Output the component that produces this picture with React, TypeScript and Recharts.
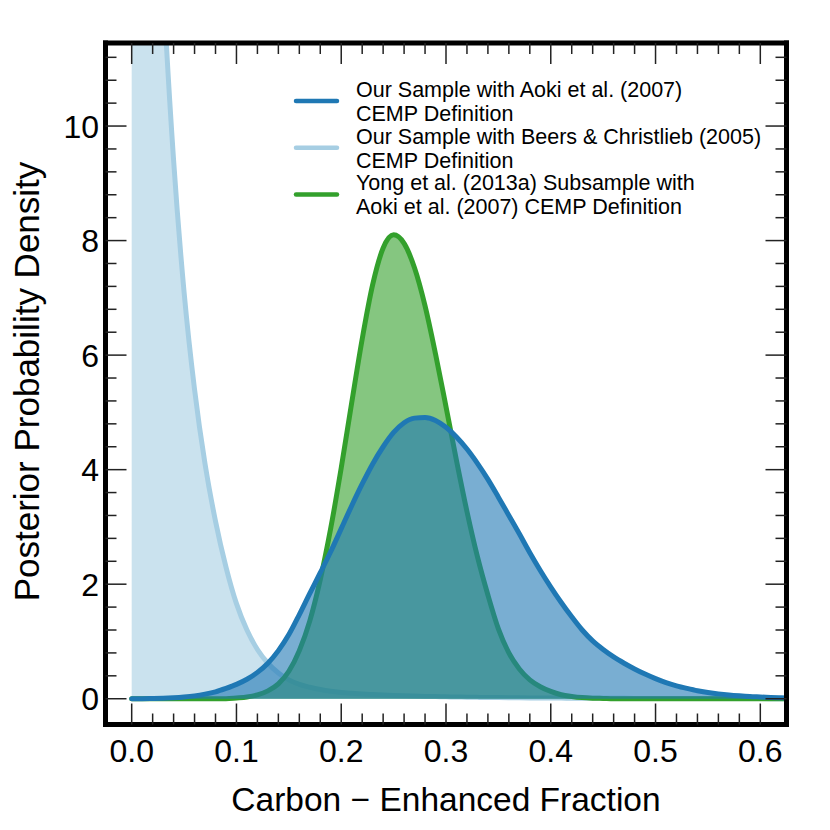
import React from 'react';
import { ComposedChart, Area, XAxis, YAxis, Legend } from 'recharts';

const W = 830;
const H = 830;
const FONT = '"Liberation Sans", Arial, Helvetica, sans-serif';

// ---------------- data ----------------
const X_VALUES = [
  0, 0.01, 0.02, 0.03, 0.04, 0.05, 0.06, 0.07, 0.08, 0.09,
  0.1, 0.11, 0.12, 0.13, 0.14, 0.15, 0.16, 0.17, 0.18, 0.19,
  0.2, 0.21, 0.22, 0.23, 0.24, 0.25, 0.26, 0.27, 0.28, 0.29,
  0.3, 0.31, 0.32, 0.33, 0.34, 0.35, 0.36, 0.37, 0.38, 0.39,
  0.4, 0.41, 0.42, 0.43, 0.44, 0.45, 0.46, 0.47, 0.48, 0.49,
  0.5, 0.51, 0.52, 0.53, 0.54, 0.55, 0.56, 0.57, 0.58, 0.59,
  0.6, 0.61, 0.62, 0.625,
];

// Our Sample with Aoki et al. (2007)
const AOKI = [
  0, 0.001, 0.003, 0.007, 0.016, 0.03, 0.05, 0.08, 0.12, 0.18,
  0.25, 0.34, 0.46, 0.62, 0.84, 1.12, 1.47, 1.84, 2.2, 2.57,
  2.97, 3.37, 3.75, 4.1, 4.4, 4.65, 4.82, 4.9, 4.91, 4.86,
  4.74, 4.57, 4.36, 4.11, 3.83, 3.52, 3.2, 2.88, 2.55, 2.24,
  1.95, 1.68, 1.43, 1.2, 1.01, 0.86, 0.73, 0.62, 0.52, 0.43,
  0.35, 0.28, 0.225, 0.18, 0.14, 0.11, 0.085, 0.065, 0.05, 0.038,
  0.03, 0.022, 0.016, 0.014,
];

// Our Sample with Beers & Christlieb (2005)
const BEERS = [
  30, 22.5, 16.8, 12.5, 9.4, 7.1, 5.4, 4.1, 3.1, 2.3,
  1.66, 1.2, 0.86, 0.62, 0.45, 0.33, 0.25, 0.2, 0.16, 0.13,
  0.11, 0.095, 0.082, 0.072, 0.064, 0.057, 0.051, 0.046, 0.041, 0.037,
  0.033, 0.03, 0.027, 0.024, 0.022, 0.02, 0.018, 0.016, 0.014, 0.013,
  0.012, 0.011, 0.01, 0.009, 0.008, 0.0075, 0.007, 0.0065, 0.006, 0.0055,
  0.005, 0.0046, 0.0042, 0.0038, 0.0035, 0.0032, 0.003, 0.0027, 0.0025, 0.0023,
  0.002, 0.0018, 0.0016, 0.0015,
];

// Yong et al. (2013a) Subsample with Aoki et al. (2007)
const YONG = [
  0, 0, 0, 0, 0, 0, 0, 0, 0, 0,
  0.013, 0.03, 0.067, 0.137, 0.26, 0.48, 0.84, 1.36, 2.08, 2.98,
  4.03, 5.17, 6.28, 7.23, 7.87, 8.1, 7.95, 7.52, 6.86, 6.02,
  5.1, 4.16, 3.27, 2.48, 1.81, 1.22, 0.8, 0.52, 0.33, 0.21,
  0.127, 0.07, 0.04, 0.02, 0.01, 0.005, 0, 0, 0, 0,
  0, 0, 0, 0, 0, 0, 0, 0, 0, 0,
  0, 0, 0, 0,
];

const X_TICKS = [
  0, 0.02, 0.04, 0.06, 0.08, 0.1, 0.12, 0.14, 0.16, 0.18,
  0.2, 0.22, 0.24, 0.26, 0.28, 0.3, 0.32, 0.34, 0.36, 0.38,
  0.4, 0.42, 0.44, 0.46, 0.48, 0.5, 0.52, 0.54, 0.56, 0.58, 0.6,
];
const X_MAJOR = [0, 0.1, 0.2, 0.3, 0.4, 0.5, 0.6];
const X_LABELS = ['0.0', '0.1', '0.2', '0.3', '0.4', '0.5', '0.6'];

const Y_TICKS = [
  0, 0.4, 0.8, 1.2, 1.6, 2, 2.4, 2.8, 3.2, 3.6, 4, 4.4, 4.8, 5.2, 5.6,
  6, 6.4, 6.8, 7.2, 7.6, 8, 8.4, 8.8, 9.2, 9.6, 10, 10.4, 10.8, 11.2,
];
const Y_MAJOR = [0, 2, 4, 6, 8, 10];
const Y_LABELS = ['0', '2', '4', '6', '8', '10'];

const SERIES_NAMES = [
  ['Our Sample with Aoki et al. (2007)', 'CEMP Definition'],
  ['Our Sample with Beers & Christlieb (2005)', 'CEMP Definition'],
  ['Yong et al. (2013a) Subsample with', 'Aoki et al. (2007) CEMP Definition'],
];
const SERIES_COLORS = ['#1f78b4', '#a6cee3', '#33a02c'];

const X_TITLE = 'Carbon \u2212 Enhanced Fraction';
const Y_TITLE = 'Posterior Probability Density';

const data = X_VALUES.map((x, i) => ({ x, aoki: AOKI[i], beers: BEERS[i], yong: YONG[i] }));

// ---------------- layout ----------------
const AX = 30; // axis box size
const PLOT = { left: 105.5, right: 786.5, top: 43, bottom: 724.5 };
const M = { top: PLOT.top - AX, right: W - PLOT.right - AX, bottom: H - PLOT.bottom - AX, left: PLOT.left - AX };
const X_DOMAIN: [number, number] = [-0.025, 0.625];
const Y_DOMAIN: [number, number] = [-0.45, 11.45];
const MAJOR_LEN = 21;
const MINOR_LEN = 11;
const TICK_COLOR = '#222';
const TICK_W = 1.5;
const TICK_FONT = 32;
const X_TITLE_FONT = 33.5;
const Y_TITLE_FONT = 35;
const LEGEND_FONT = 21.5;

const majorIndex = (list: number[], v: number) => list.findIndex((m) => Math.abs(m - v) < 1e-6);

const BottomTick = (props: any) => {
  const { x, payload } = props;
  const y = PLOT.bottom;
  const idx = majorIndex(X_MAJOR, payload.value);
  const len = idx >= 0 ? MAJOR_LEN : MINOR_LEN;
  return (
    <g>
      <line x1={x} x2={x} y1={y} y2={y - len} stroke={TICK_COLOR} strokeWidth={TICK_W} />
      {idx >= 0 && (
        <text x={x} y={y + 37.5} textAnchor="middle" fontSize={TICK_FONT} fontFamily={FONT} fill="#000">
          {X_LABELS[idx]}
        </text>
      )}
    </g>
  );
};

const TopTick = (props: any) => {
  const { x, payload } = props;
  const y = PLOT.top;
  const idx = majorIndex(X_MAJOR, payload.value);
  const len = idx >= 0 ? MAJOR_LEN : MINOR_LEN;
  return <line x1={x} x2={x} y1={y} y2={y + len} stroke={TICK_COLOR} strokeWidth={TICK_W} />;
};

const LeftTick = (props: any) => {
  const { y, payload } = props;
  const x = PLOT.left;
  const idx = majorIndex(Y_MAJOR, payload.value);
  const len = idx >= 0 ? MAJOR_LEN : MINOR_LEN;
  return (
    <g>
      <line x1={x} x2={x + len} y1={y} y2={y} stroke={TICK_COLOR} strokeWidth={TICK_W} />
      {idx >= 0 && (
        <text x={x - 6.5} y={y + 11.5} textAnchor="end" fontSize={TICK_FONT} fontFamily={FONT} fill="#000">
          {Y_LABELS[idx]}
        </text>
      )}
    </g>
  );
};

const RightTick = (props: any) => {
  const { y, payload } = props;
  const x = PLOT.right;
  const idx = majorIndex(Y_MAJOR, payload.value);
  const len = idx >= 0 ? MAJOR_LEN : MINOR_LEN;
  return <line x1={x} x2={x - len} y1={y} y2={y} stroke={TICK_COLOR} strokeWidth={TICK_W} />;
};

const plotCx = (PLOT.left + PLOT.right) / 2;
const Y_TITLE_CY = 381.5;
const Y_TITLE_X = 38.5;

const XTitle = () => (
  <text x={plotCx} y={811} textAnchor="middle" fontSize={X_TITLE_FONT} fontFamily={FONT} fill="#000">
    {X_TITLE}
  </text>
);

const YTitle = () => (
  <text
    x={Y_TITLE_X}
    y={Y_TITLE_CY}
    transform={`rotate(-90, ${Y_TITLE_X}, ${Y_TITLE_CY})`}
    textAnchor="middle"
    fontSize={Y_TITLE_FONT}
    fontFamily={FONT}
    fill="#000"
  >
    {Y_TITLE}
  </text>
);

const LegendContent = () => (
  <svg width={W} height={240} style={{ display: 'block', overflow: 'visible' }}>
    {SERIES_NAMES.map((lines, i) => {
      const cy = 101 + i * 46.7;
      return (
        <g key={i}>
          <line x1={296} x2={337} y1={cy} y2={cy} stroke={SERIES_COLORS[i]} strokeWidth={4.5} strokeLinecap="round" />
          <text x={356} y={cy - 4} fontSize={LEGEND_FONT} fontFamily={FONT} fill="#000">
            {lines[0]}
          </text>
          <text x={356} y={cy + 20} fontSize={LEGEND_FONT} fontFamily={FONT} fill="#000">
            {lines[1]}
          </text>
        </g>
      );
    })}
  </svg>
);

const frame = { stroke: '#000', strokeWidth: 5, strokeLinecap: 'square' as const };

export default function App() {
  return (
    <div style={{ position: 'absolute', left: 0, top: 0, width: W, height: H, background: '#fff' }}>
      <ComposedChart width={W} height={H} data={data} margin={M}>
        <Area
          type="monotone"
          dataKey="beers"
          stroke={SERIES_COLORS[1]}
          strokeWidth={5}
          fill={SERIES_COLORS[1]}
          fillOpacity={0.6}
          baseValue={0}
          dot={false}
          activeDot={false}
          isAnimationActive={false}
          strokeLinecap="round"
        />
        <Area
          type="monotone"
          dataKey="yong"
          stroke={SERIES_COLORS[2]}
          strokeWidth={5}
          fill={SERIES_COLORS[2]}
          fillOpacity={0.6}
          baseValue={0}
          dot={false}
          activeDot={false}
          isAnimationActive={false}
          strokeLinecap="round"
        />
        <Area
          type="monotone"
          dataKey="aoki"
          stroke={SERIES_COLORS[0]}
          strokeWidth={5}
          fill={SERIES_COLORS[0]}
          fillOpacity={0.6}
          baseValue={0}
          dot={false}
          activeDot={false}
          isAnimationActive={false}
          strokeLinecap="round"
        />
        <XAxis
          dataKey="x"
          type="number"
          domain={X_DOMAIN}
          allowDataOverflow
          ticks={X_TICKS}
          interval={0}
          height={AX}
          tickSize={0}
          tickMargin={0}
          tickLine={false}
          axisLine={frame}
          tick={<BottomTick />}
          label={<XTitle />}
        />
        <XAxis
          xAxisId="top"
          orientation="top"
          dataKey="x"
          type="number"
          domain={X_DOMAIN}
          allowDataOverflow
          ticks={X_TICKS}
          interval={0}
          height={AX}
          tickSize={0}
          tickMargin={0}
          tickLine={false}
          axisLine={frame}
          tick={<TopTick />}
        />
        <YAxis
          type="number"
          domain={Y_DOMAIN}
          allowDataOverflow
          ticks={Y_TICKS}
          interval={0}
          width={AX}
          tickSize={0}
          tickMargin={0}
          tickLine={false}
          axisLine={frame}
          tick={<LeftTick />}
          label={<YTitle />}
        />
        <YAxis
          yAxisId="right"
          orientation="right"
          type="number"
          domain={Y_DOMAIN}
          allowDataOverflow
          ticks={Y_TICKS}
          interval={0}
          width={AX}
          tickSize={0}
          tickMargin={0}
          tickLine={false}
          axisLine={frame}
          tick={<RightTick />}
        />
        <Legend
          layout="horizontal"
          verticalAlign="middle"
          align="center"
          content={<LegendContent />}
          wrapperStyle={{ left: 0, top: 0, width: W, height: 240, margin: 0, padding: 0, pointerEvents: 'none' }}
        />
      </ComposedChart>
    </div>
  );
}
